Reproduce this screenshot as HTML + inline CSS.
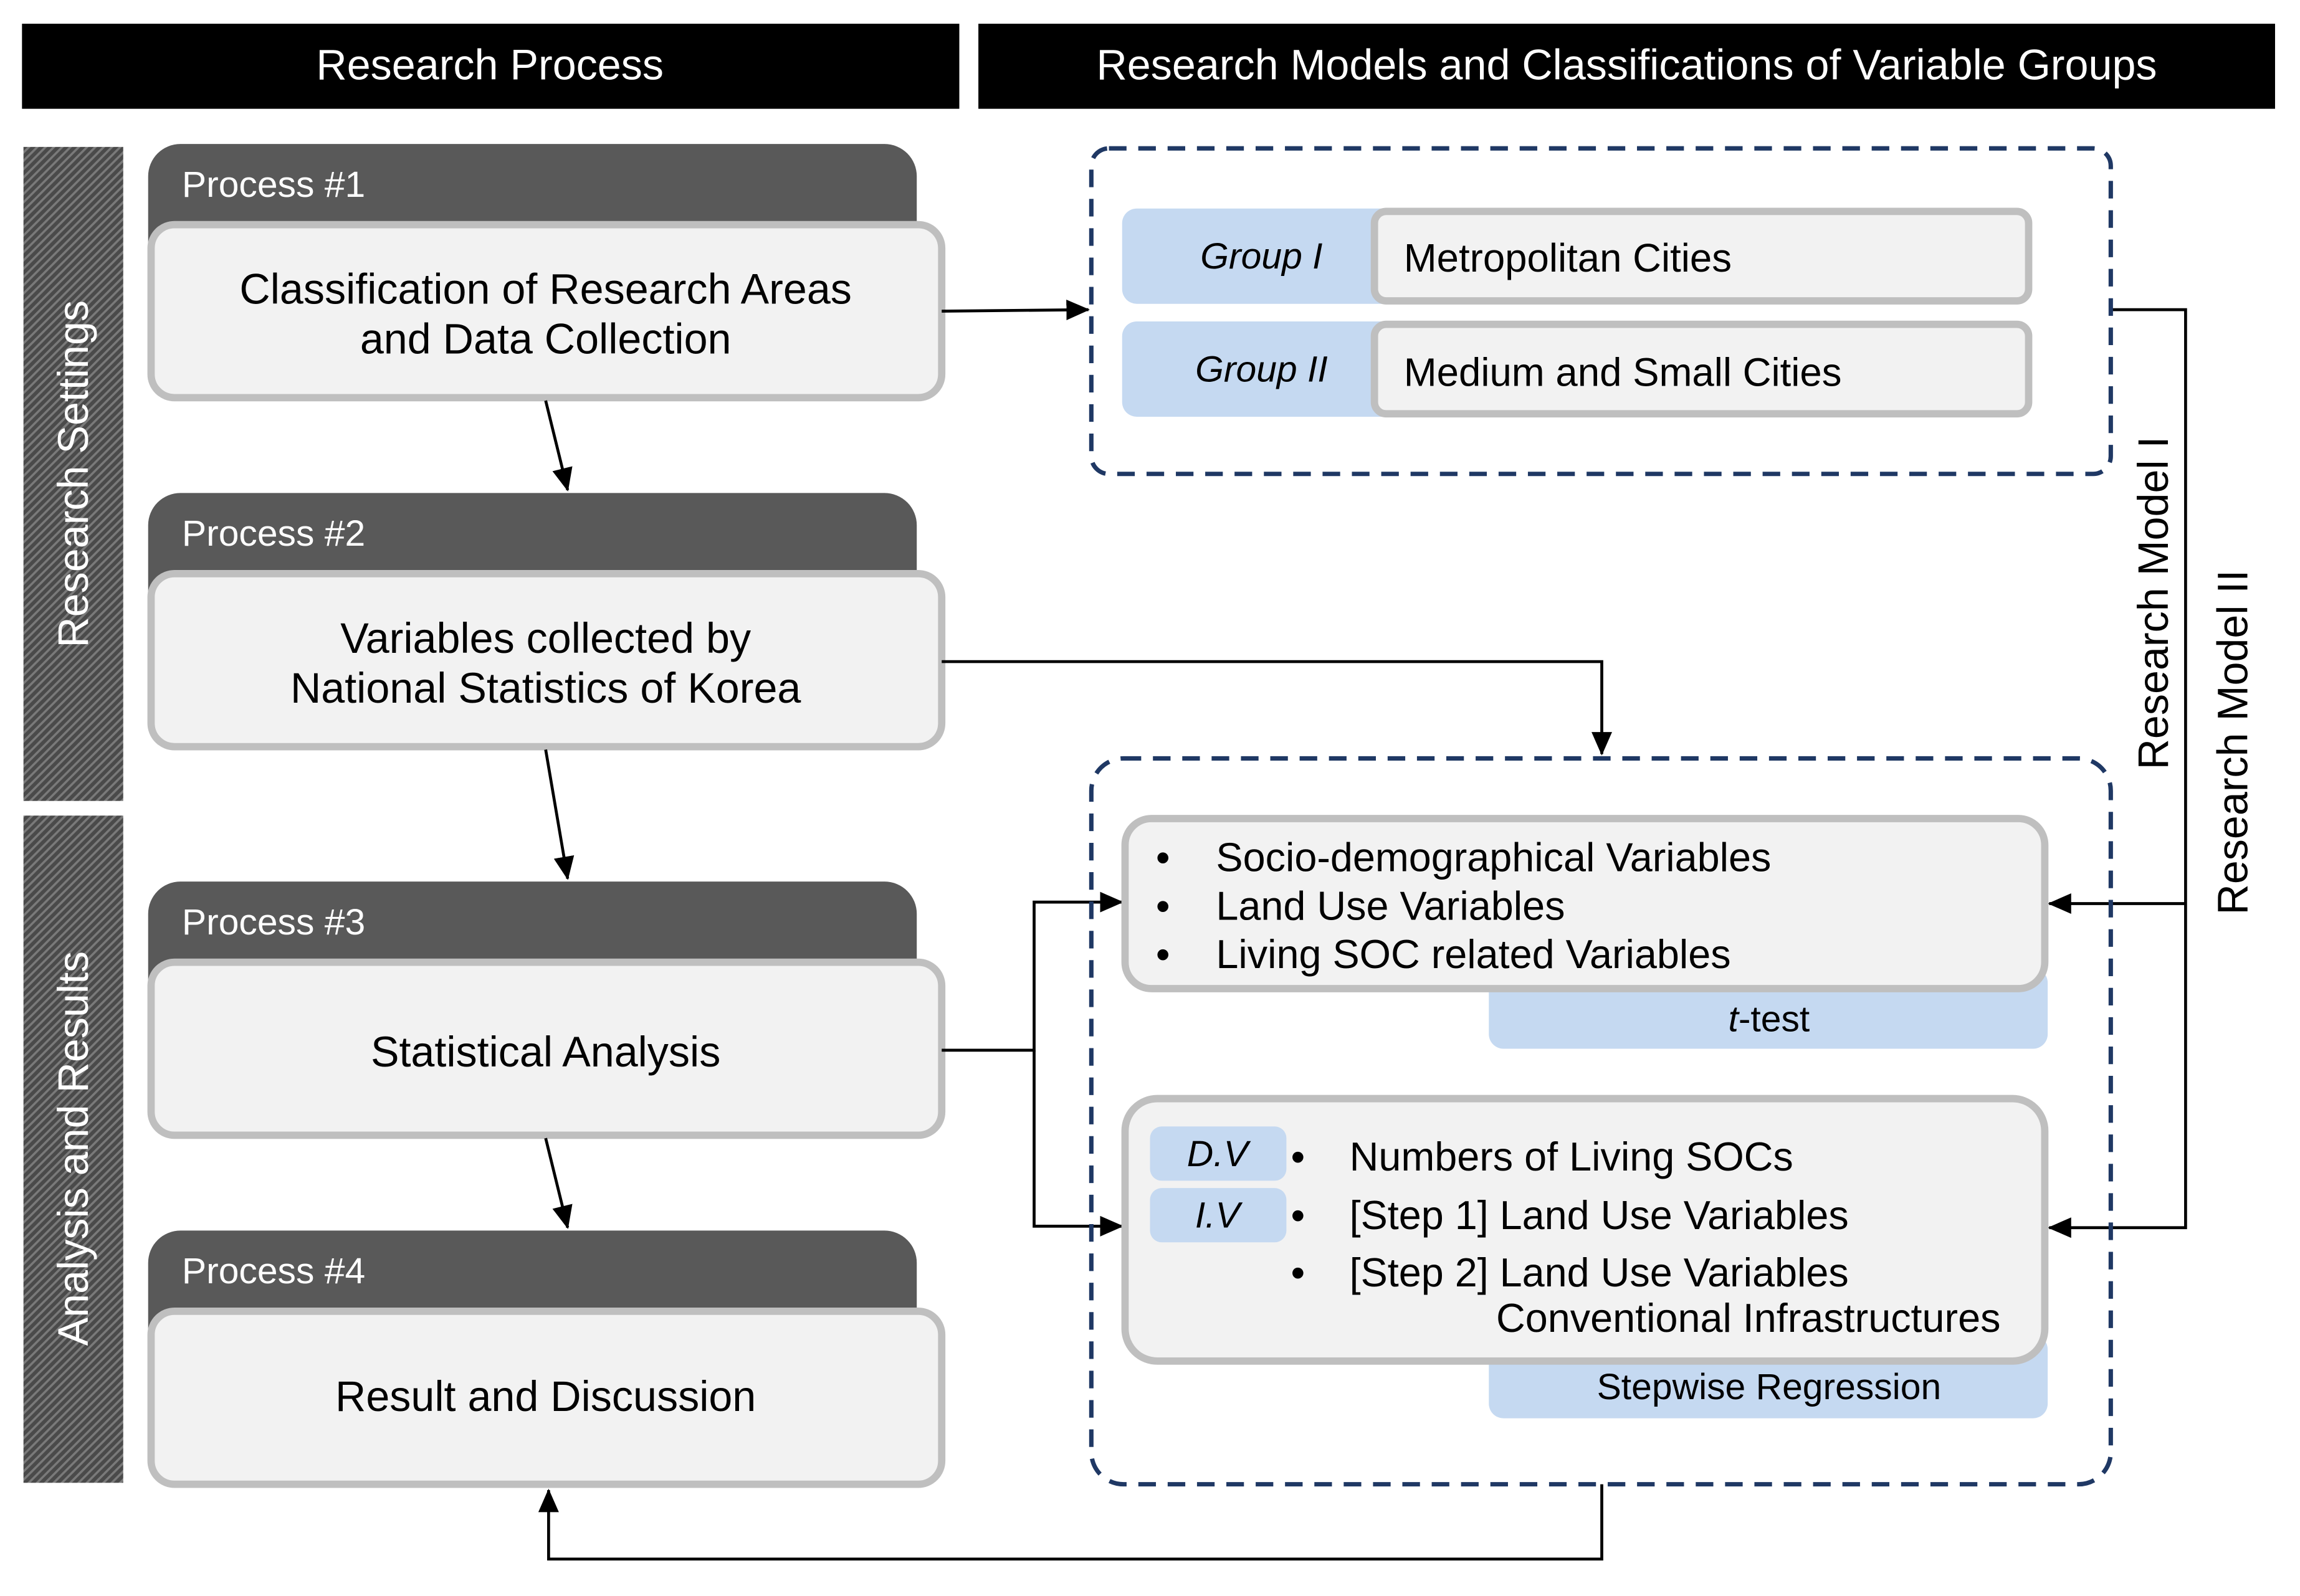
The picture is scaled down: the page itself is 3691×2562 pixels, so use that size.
<!DOCTYPE html>
<html><head><meta charset="utf-8"><style>
html,body{margin:0;padding:0;background:#fff}
svg{display:block}
text{font-family:"Liberation Sans",sans-serif;}
</style></head><body>
<svg width="3691" height="2562" viewBox="0 0 1568 1088" xmlns="http://www.w3.org/2000/svg">
<defs>
<pattern id="h" width="4" height="4" patternUnits="userSpaceOnUse" patternTransform="rotate(45)">
<rect width="4" height="4" fill="#4a4a4a"/><rect width="1.5" height="4" fill="#7a7a7a"/>
</pattern>
<marker id="b" markerWidth="16" markerHeight="14" refX="15" refY="7" orient="auto" markerUnits="userSpaceOnUse">
<path d="M0,0 L16,7 L0,14 z" fill="#000"/></marker>
</defs>
<rect width="1568" height="1088" fill="#fff"/>
<rect x="15" y="16" width="639" height="58" fill="#000"/>
<text x="334" y="54" font-size="29" fill="#fff" text-anchor="middle">Research Process</text>
<rect x="667" y="16" width="884" height="58" fill="#000"/>
<text x="1109" y="54" font-size="29" fill="#fff" text-anchor="middle">Research Models and Classifications of Variable Groups</text>
<rect x="16" y="100" width="68" height="446" fill="url(#h)"/>
<text transform="translate(60,323) rotate(-90)" font-size="29" fill="#fff" text-anchor="middle">Research Settings</text>
<rect x="16" y="556" width="68" height="455" fill="url(#h)"/>
<text transform="translate(60,783) rotate(-90)" font-size="29" fill="#fff" text-anchor="middle">Analysis and Results</text>
<g>
<rect x="101" y="98" width="524" height="130" rx="22" fill="#595959"/>
<text x="124" y="134" font-size="25" fill="#fff">Process #1</text>
<rect x="103" y="153" width="539" height="118" rx="16" fill="#f2f2f2" stroke="#bfbfbf" stroke-width="5"/>
<text x="372" y="207" font-size="29" text-anchor="middle">Classification of Research Areas</text>
<text x="372" y="241" font-size="29" text-anchor="middle">and Data Collection</text>
</g>
<g>
<rect x="101" y="336" width="524" height="130" rx="22" fill="#595959"/>
<text x="124" y="372" font-size="25" fill="#fff">Process #2</text>
<rect x="103" y="391" width="539" height="118" rx="16" fill="#f2f2f2" stroke="#bfbfbf" stroke-width="5"/>
<text x="372" y="445" font-size="29" text-anchor="middle">Variables collected by</text>
<text x="372" y="479" font-size="29" text-anchor="middle">National Statistics of Korea</text>
</g>
<g>
<rect x="101" y="601" width="524" height="130" rx="22" fill="#595959"/>
<text x="124" y="637" font-size="25" fill="#fff">Process #3</text>
<rect x="103" y="656" width="539" height="118" rx="16" fill="#f2f2f2" stroke="#bfbfbf" stroke-width="5"/>
<text x="372" y="727" font-size="29" text-anchor="middle">Statistical Analysis</text>
</g>
<g>
<rect x="101" y="839" width="524" height="130" rx="22" fill="#595959"/>
<text x="124" y="875" font-size="25" fill="#fff">Process #4</text>
<rect x="103" y="894" width="539" height="118" rx="16" fill="#f2f2f2" stroke="#bfbfbf" stroke-width="5"/>
<text x="372" y="962" font-size="29" text-anchor="middle">Result and Discussion</text>
</g>
<g stroke="#000" stroke-width="2" fill="none">
<line x1="372" y1="273" x2="387" y2="334" marker-end="url(#b)"/>
<line x1="372" y1="511" x2="387" y2="599" marker-end="url(#b)"/>
<line x1="372" y1="776" x2="387" y2="837" marker-end="url(#b)"/>
<line x1="642" y1="212" x2="742" y2="211" marker-end="url(#b)"/>
<polyline points="642,451 1092,451 1092,514" marker-end="url(#b)"/>
<polyline points="642,716 705,716 705,615 765,615" marker-end="url(#b)"/>
<polyline points="705,716 705,836 765,836" marker-end="url(#b)"/>
<polyline points="1092,1012 1092,1063 374,1063 374,1016" marker-end="url(#b)"/>
<polyline points="1439,211 1490,211 1490,837 1397,837" marker-end="url(#b)"/>
<polyline points="1490,616 1397,616" marker-end="url(#b)"/>
</g>
<rect x="744" y="101" width="695" height="222" rx="12" fill="none" stroke="#1f3864" stroke-width="3" stroke-dasharray="12,8"/>
<rect x="744" y="517" width="695" height="495" rx="22" fill="none" stroke="#1f3864" stroke-width="3" stroke-dasharray="12,8"/>
<rect x="765" y="142" width="200" height="65" rx="10" fill="#c5d9f1"/>
<text x="860" y="183" font-size="25" font-style="italic" text-anchor="middle">Group I</text>
<rect x="937" y="144" width="446" height="61" rx="8" fill="#f2f2f2" stroke="#bfbfbf" stroke-width="5"/>
<text x="957" y="185" font-size="27">Metropolitan Cities</text>
<rect x="765" y="219" width="200" height="65" rx="10" fill="#c5d9f1"/>
<text x="860" y="260" font-size="25" font-style="italic" text-anchor="middle">Group II</text>
<rect x="937" y="221" width="446" height="61" rx="8" fill="#f2f2f2" stroke="#bfbfbf" stroke-width="5"/>
<text x="957" y="263" font-size="27">Medium and Small Cities</text>
<rect x="1015" y="660" width="381" height="55" rx="10" fill="#c5d9f1"/>
<text x="1206" y="703" font-size="25" text-anchor="middle"><tspan font-style="italic">t</tspan>-test</text>
<rect x="767" y="558" width="627" height="116" rx="18" fill="#f2f2f2" stroke="#bfbfbf" stroke-width="5"/>
<g font-size="27.5">
<text x="788" y="594">•</text><text x="829" y="594">Socio-demographical Variables</text>
<text x="788" y="627">•</text><text x="829" y="627">Land Use Variables</text>
<text x="788" y="660">•</text><text x="829" y="660">Living SOC related Variables</text>
</g>
<rect x="1015" y="910" width="381" height="57" rx="10" fill="#c5d9f1"/>
<text x="1206" y="954" font-size="25" text-anchor="middle">Stepwise Regression</text>
<rect x="767" y="749" width="627" height="179" rx="22" fill="#f2f2f2" stroke="#bfbfbf" stroke-width="5"/>
<rect x="784" y="768" width="93" height="37" rx="8" fill="#c5d9f1"/>
<text x="830" y="795" font-size="25" font-style="italic" text-anchor="middle">D.V</text>
<rect x="784" y="810" width="93" height="37" rx="8" fill="#c5d9f1"/>
<text x="830" y="837" font-size="25" font-style="italic" text-anchor="middle">I.V</text>
<g font-size="27.5">
<text x="880" y="798">•</text><text x="920" y="798">Numbers of Living SOCs</text>
<text x="880" y="838">•</text><text x="920" y="838">[Step 1] Land Use Variables</text>
<text x="880" y="877">•</text><text x="920" y="877">[Step 2] Land Use Variables</text>
<text x="1020" y="908">Conventional Infrastructures</text>
</g>
<text transform="translate(1478,411) rotate(-90)" font-size="29" text-anchor="middle">Research Model I</text>
<text transform="translate(1532,506) rotate(-90)" font-size="29" text-anchor="middle">Research Model II</text>
</svg>
</body></html>
